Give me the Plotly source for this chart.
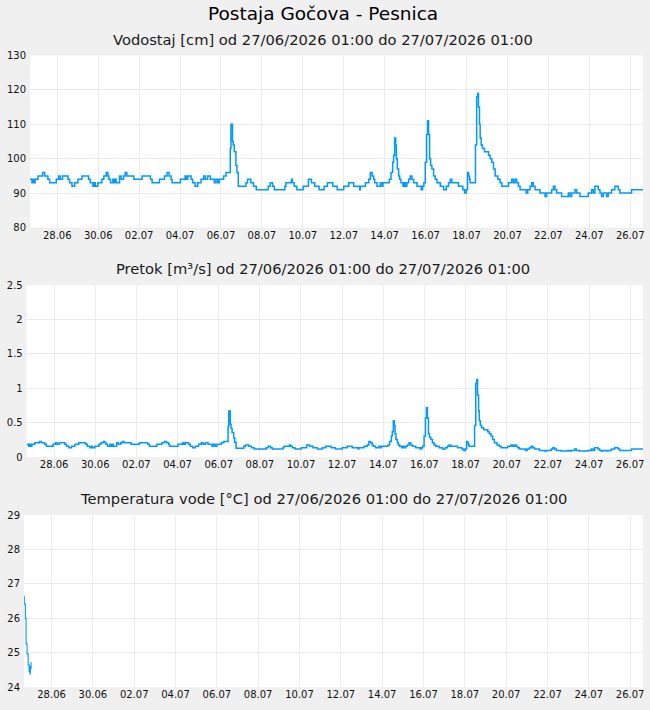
import pandas as pd
import plotly.graph_objects as go

# ---------------- data ----------------
START = "2026-06-26 16:00"   # left edge of the time axis
SPAN_H = 719                  # hours shown on the time axis

HOURS = [
    0, 2.3, 3.5, 4.7, 6, 9.4, 14.8, 17.2, 21, 23,
    30.8, 33.6, 35.5, 38.2, 44.5, 46.4, 49.2, 52.3, 56.2, 60.9,
    68.7, 70.6, 73.8, 75.7, 76.5, 79.6, 84.3, 86.6, 89.4, 91.3,
    92.5, 94.4, 97.2, 98.5, 99.9, 101, 105, 106.9, 109.7, 111.6,
    113.6, 121.8, 131.5, 141.3, 143.2, 151.8, 157.7, 160.8, 163.1, 165.5,
    166.6, 176.4, 181.9, 183.4, 185, 188.9, 190.8, 193.6, 196.7, 200.6,
    203.7, 205.7, 208.4, 211.5, 216.2, 218.1, 220.1, 222, 227.1, 229.9,
    234.9, 235.7, 237.5, 238.4, 239.6, 241.5, 242.7, 244.3, 253.3, 255.2,
    259.1, 262.2, 265.4, 279.4, 281.7, 284.5, 286.5, 298.9, 300.1, 306.7,
    307.9, 309.9, 313, 320.4, 326.6, 330.1, 334, 339.1, 345, 348.9,
    355.1, 360.2, 368, 373.9, 379.7, 386.7, 387.5, 393.4, 397.3, 399.2,
    401.2, 403.1, 404.3, 407, 410.9, 412.9, 414, 421.5, 423.4, 425.4,
    426.5, 427.7, 428.9, 429.7, 430.8, 432.4, 433.6, 435.1, 437.5, 439,
    440.2, 442.1, 444.1, 446, 448, 450, 453.9, 458.9, 460.5, 462,
    463.6, 465.2, 466.3, 467.5, 468.7, 469.9, 471.4, 473.4, 475.3, 477.3,
    481.2, 485.1, 488.2, 490.9, 492.9, 494.8, 502.6, 507.7, 509.7, 511.6,
    513.2, 514.3, 515.5, 516.3, 522.5, 523.9, 525, 526, 527.2, 528,
    529.2, 530.7, 533.1, 537.8, 539.7, 541.7, 543.6, 545.6, 548.7, 551.4,
    553.4, 561.2, 565.1, 567, 569, 570.9, 572.9, 574.8, 581.9, 583.8,
    586.5, 588.5, 590.4, 592.4, 598.2, 604.1, 606, 611.9, 613.9, 615.8,
    617.8, 623.6, 631.4, 633.4, 635.3, 639.2, 641.2, 645.1, 654.8, 658.7,
    660.7, 662.6, 666.5, 668.5, 670.4, 672.4, 676.3, 678.2, 682.1, 686,
    690, 691.9, 705.6, 719,
]

LEVEL_CM = [
    94, 93, 94, 93, 94, 95, 96, 95, 94, 93,
    94, 95, 94, 95, 94, 93, 92, 93, 94, 95,
    94, 93, 92, 93, 92, 93, 94, 95, 96, 95,
    94, 93, 94, 93, 94, 93, 95, 94, 95, 96,
    95, 94, 95, 94, 93, 94, 95, 96, 95, 94,
    93, 94, 95, 94, 95, 94, 93, 92, 93, 94,
    95, 94, 95, 94, 93, 94, 93, 94, 95, 96,
    103, 110, 105, 104, 102, 98, 96, 92, 93, 94,
    93, 92, 91, 92, 93, 92, 91, 92, 93, 94,
    93, 92, 91, 92, 94, 93, 92, 91, 92, 93,
    92, 91, 92, 93, 92, 91, 92, 93, 94, 96,
    95, 94, 93, 92, 93, 92, 93, 94, 96, 99,
    101, 106, 104, 100, 97, 95, 94, 93, 92, 93,
    92, 93, 94, 95, 94, 93, 92, 91, 92, 93,
    99, 107, 111, 107, 100, 98, 97, 95, 94, 93,
    92, 91, 92, 93, 94, 93, 92, 91, 90, 91,
    96, 95, 94, 93, 104, 118, 119, 115, 110, 106,
    104, 103, 102, 101, 100, 99, 97, 95, 94, 93,
    92, 93, 94, 93, 94, 93, 92, 91, 90, 91,
    92, 93, 92, 91, 90, 89, 90, 91, 92, 91,
    90, 89, 90, 89, 90, 91, 90, 89, 90, 91,
    90, 92, 91, 90, 89, 90, 89, 90, 91, 92,
    91, 90, 91, 91,
]

FLOW_M3S = [
    .19, .16, .19, .16, .19, .21, .23, .21, .19, .16,
    .19, .21, .19, .21, .19, .16, .14, .16, .19, .21,
    .19, .16, .14, .16, .14, .16, .19, .21, .23, .21,
    .19, .16, .19, .16, .19, .16, .21, .19, .21, .23,
    .21, .19, .21, .19, .16, .19, .21, .23, .21, .19,
    .16, .19, .21, .19, .21, .19, .16, .14, .16, .19,
    .21, .19, .21, .19, .16, .19, .16, .19, .21, .23,
    .45, .67, .48, .42, .36, .28, .22, .13, .16, .18,
    .16, .14, .12, .14, .16, .14, .12, .14, .16, .18,
    .16, .14, .12, .14, .18, .16, .14, .12, .14, .16,
    .14, .12, .14, .16, .14, .12, .14, .16, .18, .23,
    .21, .18, .16, .14, .16, .14, .16, .18, .23, .31,
    .37, .53, .46, .34, .26, .21, .18, .16, .14, .16,
    .14, .16, .18, .21, .18, .16, .14, .12, .14, .16,
    .31, .57, .72, .57, .34, .29, .26, .21, .18, .16,
    .14, .12, .14, .16, .18, .16, .14, .12, .10, .12,
    .23, .21, .18, .16, .46, 1.07, 1.13, .90, .67, .53,
    .46, .43, .40, .37, .34, .31, .26, .21, .18, .16,
    .14, .16, .18, .16, .18, .16, .14, .12, .10, .12,
    .14, .16, .14, .12, .10, .09, .10, .12, .14, .12,
    .10, .09, .10, .09, .10, .12, .10, .09, .10, .12,
    .10, .14, .12, .10, .09, .10, .09, .10, .12, .14,
    .12, .10, .12, .12,
]

TEMP_HOURS = [0, 0.3, 1.6, 2.4, 3.6, 4.8, 6.0, 6.6, 7.0, 7.4, 8.2, 8.6]
TEMP_C = [26.63, 26.41, 26.0, 25.26, 24.97, 24.65, 24.45, 24.6, 24.39, 24.55, 24.72, 24.72]

TITLE = "Postaja Gočova - Pesnica"
SUBTITLES = [
    "Vodostaj [cm] od 27/06/2026 01:00 do 27/07/2026 01:00",
    "Pretok [m³/s] od 27/06/2026 01:00 do 27/07/2026 01:00",
    "Temperatura vode [°C] od 27/06/2026 01:00 do 27/07/2026 01:00",
]

# ---------------- figure ----------------
W, H = 650, 710
t0 = pd.Timestamp(START)
to_time = lambda hs: [t0 + pd.Timedelta(hours=h) for h in hs]
x_main = to_time(HOURS)
x_temp = to_time(TEMP_HOURS)
x_range = [t0, t0 + pd.Timedelta(hours=SPAN_H)]

LINE = "#0099ff"
GRID = "#ebebeb"
FONT = "DejaVu Sans"

fig = go.Figure()
fig.add_trace(go.Scatter(x=x_main, y=LEVEL_CM, mode="lines", line=dict(color=LINE, width=1.5, shape="hv"),
                         xaxis="x", yaxis="y", showlegend=False))
fig.add_trace(go.Scatter(x=x_main, y=FLOW_M3S, mode="lines", line=dict(color=LINE, width=1.5, shape="hv"),
                         xaxis="x2", yaxis="y2", showlegend=False))
fig.add_trace(go.Scatter(x=x_temp, y=TEMP_C, mode="lines", line=dict(color=LINE, width=1.1, shape="hv"),
                         xaxis="x3", yaxis="y3", showlegend=False))

def py(px):
    return 1 - px / H

panels = [
    # (left px, top px, bottom px, y range, dtick)
    (30, 55.5, 227.5, [80, 130], 10),
    (26.7, 285, 457.3, [0, 2.5], 0.5),
    (24, 515, 687.3, [24, 29], 1),
]
tickfont = dict(family=FONT, size=10, color="#111")
for i, (lx, top, bot, yr, dt) in enumerate(panels, start=1):
    sfx = "" if i == 1 else str(i)
    fig.layout["xaxis" + sfx] = dict(
        domain=[lx / W, 643 / W], anchor="y" + sfx, range=x_range, type="date",
        tickformat="%d.%m", dtick=2 * 86400000, tick0="2026-06-28",
        showgrid=True, gridcolor=GRID, gridwidth=1, zeroline=False, showline=False,
        ticks="", tickfont=tickfont, fixedrange=True, automargin=False,
    )
    fig.layout["yaxis" + sfx] = dict(
        domain=[py(bot), py(top)], anchor="x" + sfx, range=yr, dtick=dt,
        showgrid=True, gridcolor=GRID, gridwidth=1, zeroline=False, showline=False,
        ticks="", tickfont=tickfont, fixedrange=True, automargin=False,
        ticklabelstandoff=3,
    )

annotations = [dict(text=TITLE, x=0.497, y=py(14), xref="paper", yref="paper", showarrow=False,
                    xanchor="center", yanchor="middle", font=dict(family=FONT, size=18.5, color="#000"))]
for txt, yc in zip(SUBTITLES, [39, 269, 499]):
    annotations.append(dict(text=txt, x=0.497, y=py(yc), xref="paper", yref="paper", showarrow=False,
                            xanchor="center", yanchor="middle",
                            font=dict(family=FONT, size=14.7, color="#1a1a1a")))

fig.update_layout(
    width=W, height=H, autosize=False, margin=dict(l=0, r=0, t=0, b=0, pad=0),
    paper_bgcolor="#f0f0f0", plot_bgcolor="#ffffff",
    annotations=annotations, font=dict(family=FONT),
)

fig.write_html(
    "out.html",
    config={"displayModeBar": False, "responsive": False},
    post_script=(
        "var s=document.createElement('style');"
        "s.textContent='html,body{margin:0;padding:0;overflow:hidden;background:#f0f0f0}"
        ".plotly-graph-div{position:fixed;left:0;top:0}';"
        "document.head.appendChild(s);"
    ),
)
